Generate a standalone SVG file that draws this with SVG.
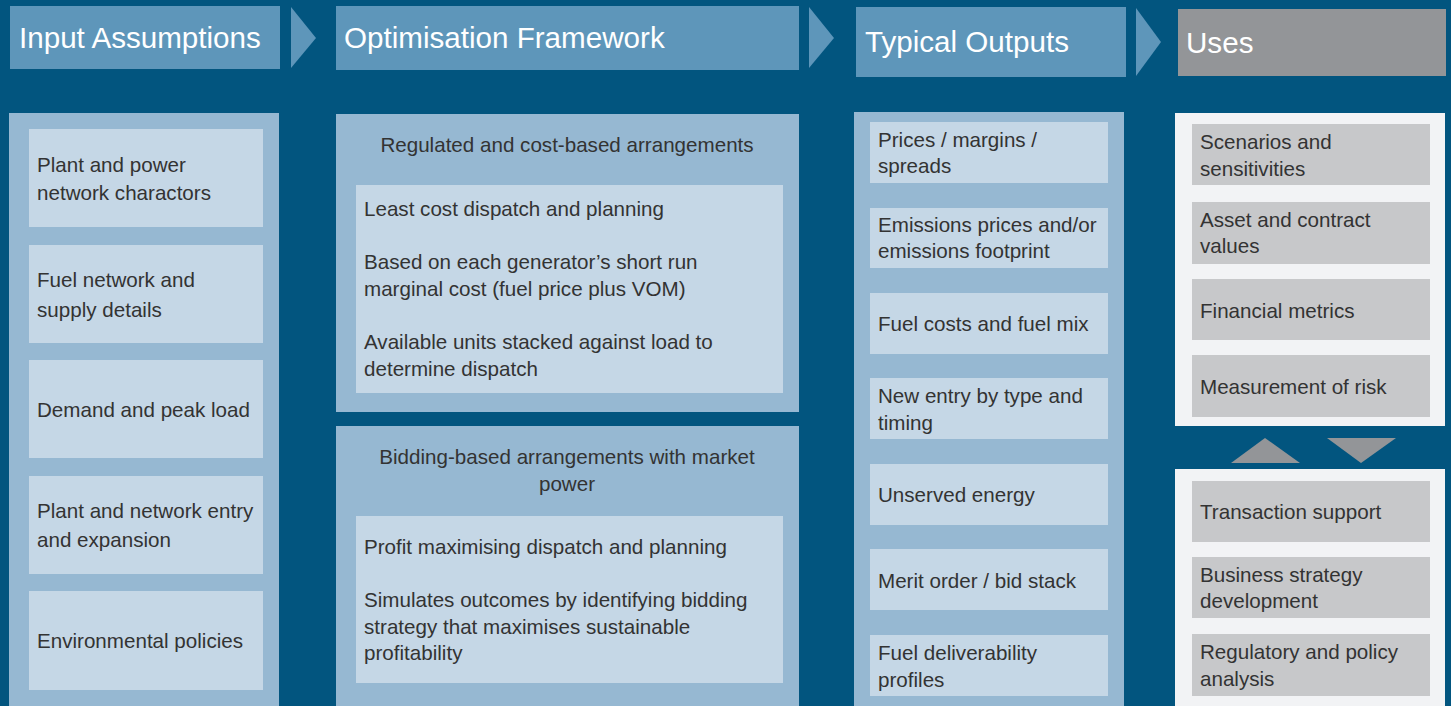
<svg xmlns="http://www.w3.org/2000/svg" width="1451" height="706" viewBox="0 0 1451 706">
<style>
.hdr{fill:#5E96BA}
.hdrg{fill:#939598}
.ht{font-family:"Liberation Sans",Arial,sans-serif;font-size:29.6px;fill:#ffffff}
.pan{fill:#96B8D2}
.box{fill:#C5D7E6}
.upan{fill:#F2F3F5}
.ubox{fill:#C7C8CA}
.t{font-family:"Liberation Sans",Arial,sans-serif;font-size:20.6px;fill:#333333}
.c{text-anchor:middle}
.chev{fill:#5E96BA}
.tri{fill:#939598}
</style>
<rect x="0" y="0" width="1451" height="706" fill="#02557F"/>

<g id="headers">
<g id="h-input"><rect class="hdr" x="10" y="6" width="270" height="63"/><text class="ht" x="19" y="48">Input Assumptions</text></g>
<g id="h-optim"><rect class="hdr" x="336" y="6" width="463" height="64"/><text class="ht" x="344" y="48">Optimisation Framework</text></g>
<g id="h-outputs"><rect class="hdr" x="856" y="7" width="270" height="70"/><text class="ht" x="865" y="52">Typical Outputs</text></g>
<g id="h-uses"><rect class="hdrg" x="1178" y="9" width="268" height="67"/><text class="ht" x="1186" y="53">Uses</text></g>
</g>

<g id="connectors">
<polygon class="chev" points="291,7 316,38 291,68"/>
<polygon class="chev" points="809,7 834,38 809,68"/>
<polygon class="chev" points="1136,8 1161,42 1136,76"/>
<polygon class="tri" points="1231,463 1265,438 1300,463"/>
<polygon class="tri" points="1327,438 1396,438 1361,463"/>
</g>

<g id="col-input">
<rect class="pan" x="9" y="113" width="270" height="600"/>
<g id="in-1"><rect class="box" x="29" y="129" width="234" height="98"/><text class="t" x="37" y="172">Plant and power</text><text class="t" x="37" y="200">network charactors</text></g>
<g id="in-2"><rect class="box" x="29" y="245" width="234" height="98"/><text class="t" x="37" y="287">Fuel network and</text><text class="t" x="37" y="317">supply details</text></g>
<g id="in-3"><rect class="box" x="29" y="360" width="234" height="98"/><text class="t" x="37" y="417">Demand and peak load</text></g>
<g id="in-4"><rect class="box" x="29" y="476" width="234" height="98"/><text class="t" x="37" y="518">Plant and network entry</text><text class="t" x="37" y="547">and expansion</text></g>
<g id="in-5"><rect class="box" x="29" y="591" width="234" height="99"/><text class="t" x="37" y="648">Environmental policies</text></g>
</g>

<g id="col-optim">
<g id="opt-regulated">
<rect class="pan" x="336" y="114" width="463" height="298"/>
<text class="t c" x="567" y="152">Regulated and cost-based arrangements</text>
<rect class="box" x="356" y="185" width="427" height="208"/>
<text class="t" x="364" y="216">Least cost dispatch and planning</text>
<text class="t" x="364" y="269">Based on each generator’s short run</text>
<text class="t" x="364" y="296">marginal cost (fuel price plus VOM)</text>
<text class="t" x="364" y="349">Available units stacked against load to</text>
<text class="t" x="364" y="376">determine dispatch</text>
</g>
<g id="opt-bidding">
<rect class="pan" x="336" y="426" width="463" height="290"/>
<text class="t c" x="567" y="464">Bidding-based arrangements with market</text>
<text class="t c" x="567" y="491">power</text>
<rect class="box" x="356" y="516" width="427" height="167"/>
<text class="t" x="364" y="554">Profit maximising dispatch and planning</text>
<text class="t" x="364" y="607">Simulates outcomes by identifying bidding</text>
<text class="t" x="364" y="634">strategy that maximises sustainable</text>
<text class="t" x="364" y="660">profitability</text>
</g>
</g>

<g id="col-outputs">
<rect class="pan" x="854" y="112" width="270" height="600"/>
<g id="out-1"><rect class="box" x="870" y="122" width="238" height="61"/><text class="t" x="878" y="147">Prices / margins /</text><text class="t" x="878" y="173">spreads</text></g>
<g id="out-2"><rect class="box" x="870" y="208" width="238" height="60"/><text class="t" x="878" y="232">Emissions prices and/or</text><text class="t" x="878" y="258">emissions footprint</text></g>
<g id="out-3"><rect class="box" x="870" y="293" width="238" height="61"/><text class="t" x="878" y="331">Fuel costs and fuel mix</text></g>
<g id="out-4"><rect class="box" x="870" y="378" width="238" height="61"/><text class="t" x="878" y="403">New entry by type and</text><text class="t" x="878" y="430">timing</text></g>
<g id="out-5"><rect class="box" x="870" y="464" width="238" height="61"/><text class="t" x="878" y="502">Unserved energy</text></g>
<g id="out-6"><rect class="box" x="870" y="549" width="238" height="61"/><text class="t" x="878" y="588">Merit order / bid stack</text></g>
<g id="out-7"><rect class="box" x="870" y="635" width="238" height="61"/><text class="t" x="878" y="660">Fuel deliverability</text><text class="t" x="878" y="687">profiles</text></g>
</g>

<g id="col-uses">
<g id="uses-top">
<rect class="upan" x="1175" y="113" width="270" height="313"/>
<g id="use-1"><rect class="ubox" x="1192" y="124" width="238" height="61"/><text class="t" x="1200" y="149">Scenarios and</text><text class="t" x="1200" y="176">sensitivities</text></g>
<g id="use-2"><rect class="ubox" x="1192" y="202" width="238" height="62"/><text class="t" x="1200" y="227">Asset and contract</text><text class="t" x="1200" y="253">values</text></g>
<g id="use-3"><rect class="ubox" x="1192" y="279" width="238" height="61"/><text class="t" x="1200" y="318">Financial metrics</text></g>
<g id="use-4"><rect class="ubox" x="1192" y="355" width="238" height="62"/><text class="t" x="1200" y="394">Measurement of risk</text></g>
</g>
<g id="uses-bottom">
<rect class="upan" x="1175" y="469" width="270" height="250"/>
<g id="use-5"><rect class="ubox" x="1192" y="481" width="238" height="61"/><text class="t" x="1200" y="519">Transaction support</text></g>
<g id="use-6"><rect class="ubox" x="1192" y="557" width="238" height="61"/><text class="t" x="1200" y="582">Business strategy</text><text class="t" x="1200" y="608">development</text></g>
<g id="use-7"><rect class="ubox" x="1192" y="634" width="238" height="62"/><text class="t" x="1200" y="659">Regulatory and policy</text><text class="t" x="1200" y="686">analysis</text></g>
</g>
</g>
</svg>
